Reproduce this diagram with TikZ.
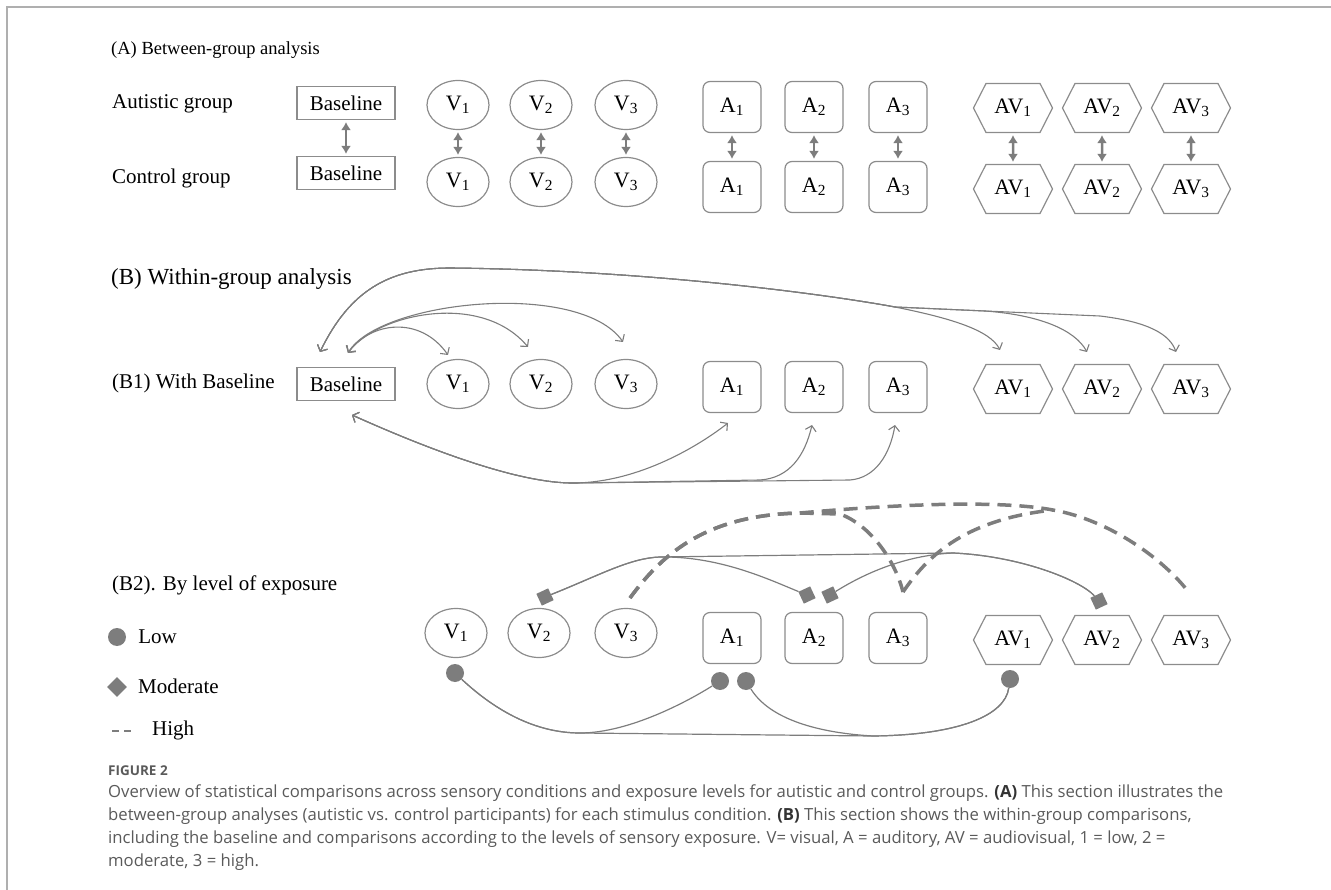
\documentclass[tikz,border=0pt]{standalone}
\usepackage{fontspec}
\setmainfont{Liberation Serif}
\newfontfamily\capfont{Open Sans}
\usetikzlibrary{arrows.meta, positioning, shapes.geometric, shapes.symbols}
\definecolor{linegray}{RGB}{125,125,125}
\definecolor{boxgray}{RGB}{140,140,140}
\definecolor{framegray}{RGB}{175,175,175}
\definecolor{capgray}{RGB}{90,90,90}
\tikzstyle{heading} = [anchor=west, inner sep=0pt, font=\fontsize{18.5}{22}\selectfont]
\tikzstyle{grouptext} = [anchor=west, inner sep=0pt, font=\fontsize{21}{24}\selectfont]
\tikzstyle{cond} = [draw=boxgray, line width=1.2pt, inner sep=0pt, font=\fontsize{22}{26}\selectfont]
\tikzstyle{basebox} = [cond, rectangle, minimum width=98pt, minimum height=33pt, font=\fontsize{21}{24}\selectfont]
\tikzstyle{visual} = [cond, ellipse, minimum width=62pt, minimum height=49pt]
\tikzstyle{audio} = [cond, rectangle, rounded corners=7pt, minimum width=58pt, minimum height=51pt]
\tikzstyle{audiovis} = [cond, signal, signal to=east and west, signal pointer angle=126, minimum width=79pt, minimum height=49pt]
\tikzstyle{between} = [{Latex[length=8pt, width=10pt]}-{Latex[length=8pt, width=10pt]}, linegray, line width=2.5pt, shorten <=2pt, shorten >=2pt]
\tikzstyle{within} = [{Straight Barb[length=5pt, width=11pt]}-{Straight Barb[length=5pt, width=11pt]}, linegray, line width=1.1pt]
\tikzstyle{link} = [linegray, line width=1.2pt]
\tikzstyle{high} = [linegray, line width=3.5pt, dash pattern=on 14pt off 8pt]
\tikzstyle{low} = [circle, fill=linegray, minimum size=18pt, inner sep=0pt]
\tikzstyle{moderate} = [rectangle, fill=linegray, minimum size=13pt, inner sep=0pt, rotate=25]

\begin{document}
\begin{tikzpicture}[x=1pt, y=-1pt]
    \useasboundingbox (0,0) rectangle (1331,890);

    % Frame.
    \draw [framegray, line width=1.5pt] (7,890) -- (7,7) -- (1331,7);

    % (A) Between-group analysis.
    \node (title a) [heading] at (111,50) {(A) Between-group analysis};
    \node (autistic) [grouptext] at (112,104) {Autistic group};
    \node (control) [grouptext] at (112,178) {Control group};

    \node (base aut) [basebox] at (346,103) {Baseline};
    \node (base con) [basebox] at (346,173) {Baseline};
    \draw [between] (base aut) -- (base con);

    \foreach \j/\cx in {1/458, 2/541, 3/626} {%
        \node (v aut \j) [visual] at (\cx,105) {V\textsubscript{\j}};
        \node (v con \j) [visual] at (\cx,182) {V\textsubscript{\j}};
        \draw [between] (v aut \j) -- (v con \j);
    }

    \foreach \j/\cx in {1/732, 2/814, 3/898} {%
        \node (a aut \j) [audio] at (\cx,107) {A\textsubscript{\j}};
        \node (a con \j) [audio] at (\cx,187) {A\textsubscript{\j}};
        \draw [between] (a aut \j) -- (a con \j);
    }

    \foreach \j/\cx in {1/1013, 2/1102, 3/1191} {%
        \node (av aut \j) [audiovis] at (\cx,108) {AV\textsubscript{\j}};
        \node (av con \j) [audiovis] at (\cx,189) {AV\textsubscript{\j}};
        \draw [between] (av aut \j) -- (av con \j);
    }

    % (B) Within-group analysis.
    \node (title b) [heading, font=\fontsize{23}{26}\selectfont] at (111,279) {(B) Within-group analysis};
    \node (with base) [grouptext] at (112,383) {(B1) With Baseline};

    \node (base) [basebox] at (346,384) {Baseline};
    \foreach \j/\cx in {1/458, 2/541, 3/626} {%
        \node (v b1 \j) [visual] at (\cx,384) {V\textsubscript{\j}};
    }
    \foreach \j/\cx in {1/732, 2/814, 3/898} {%
        \node (a b1 \j) [audio] at (\cx,387) {A\textsubscript{\j}};
    }
    \foreach \j/\cx in {1/1013, 2/1102, 3/1191} {%
        \node (av b1 \j) [audiovis] at (\cx,389) {AV\textsubscript{\j}};
    }

    % Arrow ends around the B1 row.
    \coordinate (base av) at (320,352);
    \coordinate (base v) at (348,353);
    \coordinate (base a) at (352,415);
    \coordinate (tip v 1) at (448,355);
    \coordinate (tip v 2) at (528,347);
    \coordinate (tip v 3) at (623,342);
    \coordinate (tip a 1) at (728,423);
    \coordinate (tip a 2) at (812,425);
    \coordinate (tip a 3) at (895,425);
    \coordinate (tip av 1) at (1000,350);
    \coordinate (tip av 2) at (1087,352);
    \coordinate (tip av 3) at (1176,352);

    % Branch points.
    \coordinate (top) at (450,268);
    \coordinate (fork 1) at (895,307);
    \coordinate (fork 2) at (985,311);
    \coordinate (fork 3) at (1100,316);
    \coordinate (bottom) at (575,483);

    % Baseline vs visual.
    \draw [within] (base v) .. controls (370,322) and (420,315) .. (tip v 1);
    \draw [within] (base v) .. controls (375,315) and (480,290) .. (tip v 2);
    \draw [within] (base v) .. controls (380,300) and (580,280) .. (tip v 3);

    % Baseline vs audiovisual.
    \draw [within] (base av) .. controls (350,290) and (390,268) .. (top)
        .. controls (650,270) and (830,295) .. (fork 1)
        .. controls (950,318) and (990,330) .. (tip av 1);
    \draw [within] (base av) .. controls (350,290) and (390,268) .. (top)
        .. controls (650,270) and (830,295) .. (fork 1) -- (fork 2)
        .. controls (1040,315) and (1075,330) .. (tip av 2);
    \draw [within] (base av) .. controls (350,290) and (390,268) .. (top)
        .. controls (650,270) and (830,295) .. (fork 1) -- (fork 2) -- (fork 3)
        .. controls (1150,322) and (1170,335) .. (tip av 3);

    % Baseline vs auditory.
    \draw [within] (base a) .. controls (430,450) and (520,484) .. (bottom)
        .. controls (640,482) and (700,445) .. (tip a 1);
    \draw [within] (base a) .. controls (430,450) and (520,484) .. (bottom)
        -- (760,480) .. controls (790,478) and (805,455) .. (tip a 2);
    \draw [within] (base a) .. controls (430,450) and (520,484) .. (bottom)
        -- (850,480) .. controls (875,478) and (890,455) .. (tip a 3);

    % (B2) By level of exposure.
    \node (by level) [grouptext] at (112,585) {(B2). By level of exposure};

    \foreach \j/\cx in {1/456, 2/539, 3/626} {%
        \node (v b2 \j) [visual] at (\cx,633) {V\textsubscript{\j}};
    }
    \foreach \j/\cx in {1/732, 2/814, 3/898} {%
        \node (a b2 \j) [audio] at (\cx,638) {A\textsubscript{\j}};
    }
    \foreach \j/\cx in {1/1013, 2/1102, 3/1191} {%
        \node (av b2 \j) [audiovis] at (\cx,640) {AV\textsubscript{\j}};
    }

    % Legend.
    \node (key low) [low] at (117,637) {};
    \node (key low text) [grouptext, right=12pt of key low] {Low};
    \node (key mod) [moderate, rotate=20, minimum size=14pt] at (117,687) {};
    \node (key mod text) [grouptext] at (138,686) {Moderate};
    \coordinate (key high a) at (112,731);
    \coordinate (key high b) at (132,731);
    \draw [linegray, line width=2pt, dash pattern=on 7pt off 5pt] (key high a) -- (key high b);
    \node (key high text) [grouptext] at (152,730) {High};

    % Low exposure.
    \node (low v1) [low] at (455,673) {};
    \node (low a1 left) [low] at (720,681) {};
    \node (low a1 right) [low] at (746,681) {};
    \node (low av1) [low] at (1010,679) {};

    \draw [link] (low v1) .. controls (500,715) and (540,733) .. (580,733)
        .. controls (630,733) and (690,700) .. (low a1 left);
    \draw [link] (low v1) .. controls (500,715) and (540,733) .. (580,733)
        -- (873,736) .. controls (960,735) and (1005,715) .. (low av1);
    \draw [link] (low a1 right) .. controls (770,720) and (820,733) .. (873,736)
        .. controls (960,735) and (1005,715) .. (low av1);

    % Moderate exposure.
    \node (mod v2) [moderate] at (545,597) {};
    \node (mod a2 left) [moderate] at (807,595) {};
    \node (mod a2 right) [moderate] at (830,595) {};
    \node (mod av2) [moderate] at (1099,601) {};

    \draw [link] (mod v2) .. controls (600,575) and (630,558) .. (660,557)
        .. controls (720,556) and (770,580) .. (mod a2 left);
    \draw [link] (mod v2) .. controls (600,575) and (630,558) .. (660,557)
        -- (953,553) .. controls (1020,556) and (1080,580) .. (mod av2);
    \draw [link] (mod a2 right) .. controls (870,570) and (910,555) .. (953,553)
        .. controls (1020,556) and (1080,580) .. (mod av2);

    % High exposure.
    \coordinate (high v3) at (630,598);
    \coordinate (high a3) at (903,592);
    \coordinate (high av3) at (1190,594);
    \coordinate (high join) at (1053,510);

    \draw [high] (high v3) .. controls (665,550) and (710,515) .. (800,513)
        -- (840,514) .. controls (870,525) and (895,560) .. (high a3);
    \draw [high] (high v3) .. controls (665,550) and (710,515) .. (800,513)
        .. controls (900,504) and (1000,500) .. (high join)
        .. controls (1110,520) and (1165,560) .. (high av3);
    \draw [high] (high a3) .. controls (925,560) and (960,520) .. (high join);

    % Caption.
    \node (fig label) [anchor=west, inner sep=0pt, text=capgray, font=\capfont\bfseries\fontsize{13.5}{15}\selectfont] at (108,771) {FIGURE 2};
    \node (caption) [anchor=north west, inner sep=0pt, align=left, text=capgray, font=\capfont\fontsize{16.7}{23}\selectfont] at (108,785) {Overview of statistical comparisons across sensory conditions and exposure levels for autistic and control groups. {\color{black!80}\bfseries(A)} This section illustrates the\\
between-group analyses (autistic vs. control participants) for each stimulus condition. {\color{black!80}\bfseries(B)} This section shows the within-group comparisons,\\
including the baseline and comparisons according to the levels of sensory exposure. V= visual, A = auditory, AV = audiovisual, 1 = low, 2 =\\
moderate, 3 = high.};
\end{tikzpicture}
\end{document}
